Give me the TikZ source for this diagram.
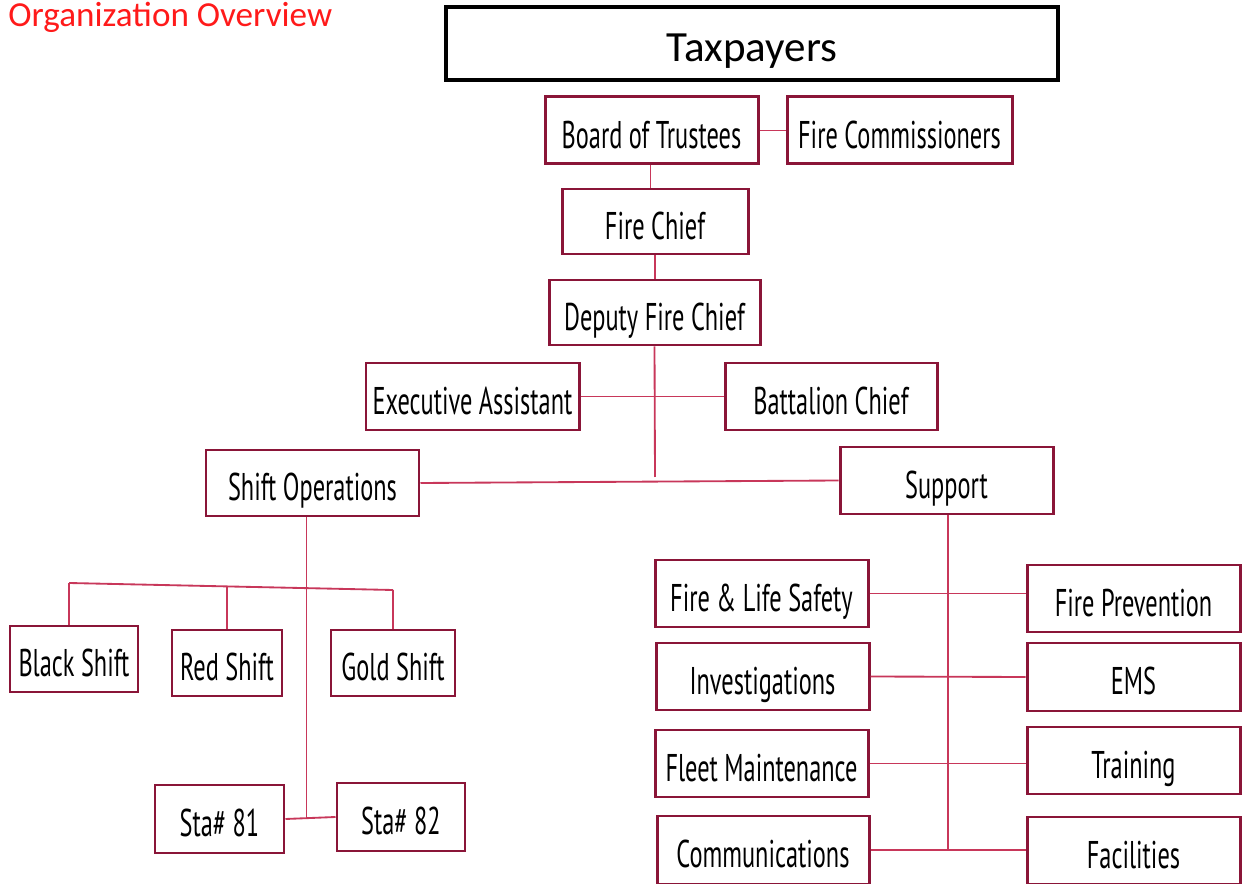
\documentclass[tikz,border=0pt]{standalone}
\usepackage{fontspec}
\setmainfont{Carlito}
\newfontfamily\boxfont[FakeStretch=0.63]{PT Sans}
\definecolor{maroon}{HTML}{8A1538}
\definecolor{linec}{HTML}{C8375A}
\definecolor{titlered}{HTML}{FF1A1A}
\tikzset{
  obox/.style={draw=maroon, line width=1.7pt, fill=white, inner sep=0pt, text height=20pt, text depth=0pt, font=\boxfont\fontsize{22}{24}\selectfont},
  tbox/.style={draw=black, line width=1.8pt, fill=white, inner sep=0pt, text height=20pt, text depth=0pt, font=\fontsize{24.5}{27}\selectfont},
  conn/.style={draw=linec, line width=1.05pt}
}
\newcommand\ob[6]{\node[obox, minimum width={(#4-#2)*0.02cm}, minimum height={(#5-#3)*0.02cm}] (#1) at ({(#2+#4)/2},{(#3+#5)/2}) {#6};}
\begin{document}
\begin{tikzpicture}[x=0.02cm,y=-0.02cm]
\useasboundingbox (0,0) rectangle (1244,884);
\clip (0,0) rectangle (1244,884);
\node[anchor=north west, text=titlered, font=\fontsize{20}{22}\selectfont, inner sep=0pt] (title) at (8,2) {Organization Overview};
\node[tbox, minimum width={612*0.02cm}, minimum height={73*0.02cm}] (tax) at (752,43.5) {Taxpayers};
\coordinate (dend) at (655,477);
\coordinate (bl) at (69,583);
\coordinate (br) at (393,590);
\coordinate (rt) at (227,586);
\ob{bot}{545}{97}{758}{164}{Board of Trustees}
\ob{fcom}{787}{97}{1012}{164}{Fire Commissioners}
\ob{chief}{562}{189}{748}{254}{Fire Chief}
\ob{dep}{549}{280}{760}{345}{Deputy Fire Chief}
\ob{exec}{366}{363}{579}{430}{Executive Assistant}
\ob{bat}{725}{363}{937}{430}{Battalion Chief}
\ob{so}{206}{450}{419}{516}{Shift Operations}
\ob{sup}{840}{447}{1053}{514}{Support}
\ob{black}{10}{626}{138}{692}{Black Shift}
\ob{red}{172}{630}{282}{696}{Red Shift}
\ob{gold}{331}{630}{455}{696}{Gold Shift}
\ob{s81}{155}{785}{284}{853}{Sta\# 81}
\ob{s82}{337}{783}{465}{851}{Sta\# 82}
\ob{fls}{655}{560}{868}{627}{Fire \& Life Safety}
\ob{fp}{1027}{565}{1240}{632}{Fire Prevention}
\ob{inv}{656}{643}{869}{710}{Investigations}
\ob{ems}{1027}{643}{1240}{711}{EMS}
\ob{fleet}{655}{730}{868}{797}{Fleet Maintenance}
\ob{train}{1027}{727}{1240}{794}{Training}
\ob{comm}{657}{816}{869}{884}{Communications}
\ob{fac}{1027}{817}{1240}{884}{Facilities}
\draw[conn] (bot.east) -- (fcom.west);
\draw[conn] (bot.south) ++(-1,0) coordinate (bs) -- (bs |- chief.north);
\draw[conn] (chief.south) -- (chief.south |- dep.north);
\draw[conn] (dep.south) -- (dend);
\draw[conn] (exec.east) -- (bat.west);
\draw[conn] (so.east) -- (sup.west);
\draw[conn] (bl) -- (br);
\draw[conn] (bl) -- (bl |- black.north);
\draw[conn] (rt) -- (rt |- red.north);
\draw[conn] (br) -- (br |- gold.north);
\draw[conn] (so.south) ++(-6,0) coordinate (os) -- (os |- s81.east);
\draw[conn] (s81.east) -- (s82.west);
\draw[conn] (sup.south) ++(1.5,0) coordinate (ss) -- (ss |- comm.east);
\draw[conn] (fls.east) -- (fp.west |- fls.east);
\draw[conn] (inv.east) -- (ems.west);
\draw[conn] (fleet.east) -- (train.west |- fleet.east);
\draw[conn] (comm.east) -- (fac.west |- comm.east);
\end{tikzpicture}
\end{document}
